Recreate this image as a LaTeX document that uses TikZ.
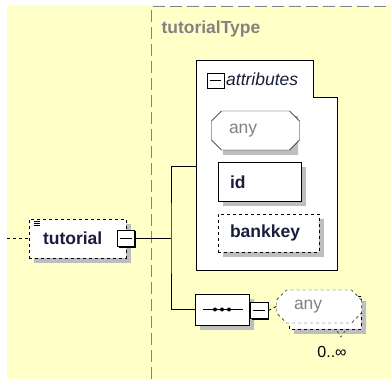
\documentclass[tikz,border=0pt]{standalone}
\usepackage{fontspec}
\setmainfont{Liberation Sans}
\usetikzlibrary{positioning,shapes.misc}
\definecolor{bgyellow}{RGB}{255,255,200}
\definecolor{shadegray}{RGB}{190,190,190}
\definecolor{typegray}{RGB}{130,130,130}
\definecolor{textnavy}{RGB}{25,30,60}

\begin{document}
\begin{tikzpicture}[x=1pt,y=-1pt]
	\tikzset{elem/.style={draw,fill=white,minimum height=39pt,inner xsep=12pt,inner ysep=0pt,align=left,font=\fontsize{17.5}{20}\selectfont\bfseries,text=textnavy}}
	\tikzset{octa/.style={chamfered rectangle,chamfered rectangle xsep=9pt,draw,fill=white,inner sep=0pt}}
	\tikzset{shadowbox/.style={chamfered rectangle,chamfered rectangle xsep=9pt,fill=shadegray,inner sep=0pt}}
	\tikzset{minbox/.style={draw,fill=white,line width=0.8pt,minimum width=17pt,minimum height=16pt,inner sep=0pt}}

	\useasboundingbox (0,0) rectangle (391,379);
	\fill[bgyellow] (7,5) rectangle (391,379);
	\draw[typegray,dashed,dash pattern=on 12pt off 5pt,line width=0.8pt] (151,379) -- (151,6.5) -- (391,6.5);
	\node[anchor=west,text=typegray,font=\fontsize{17.5}{20}\selectfont\bfseries] (typename) at (158,29) {tutorialType};

	% element tutorial
	\fill[shadegray] (34,224) rectangle (131,263);
	\node[elem,dashed,text width=69pt,inner xsep=14pt] (tutorial) at (77.5,238.5) {tutorial};
	\fill (118.5,231) rectangle (136.3,248.3);
	\node[minbox] (tutmin) at (126,238.5) {};
	\draw[line width=0.6pt] (34,221.5) -- (40,221.5) (34,223.5) -- (40,223.5) (34,225.5) -- (40,225.5);
	\coordinate (in) at (7,238.5);
	\draw[dashed,line width=0.8pt] (in) -- (tutorial.west);

	% attributes
	\draw[fill=white,line width=0.8pt] (196,60) -- (313,60) -- (313,97) -- (337,97) -- (337,270) -- (196,270) -- cycle;
	\coordinate (attr) at (196,166);
	\fill (208,74) rectangle (225.3,89.3);
	\node[minbox,minimum height=15pt] (attmin) at (215.5,80.5) {};
	\node[anchor=west,font=\fontsize{17.5}{20}\selectfont\itshape,text=textnavy,inner sep=0pt] (attlabel) at (226,79) {attributes};
	\node[shadowbox,minimum width=75pt,minimum height=39pt] (anyshade) at (260.5,135.5) {};
	\fill[shadegray] (223,167.5) rectangle (306,206.5);
	\fill[shadegray] (223,219) rectangle (324,257);
	\node[octa,minimum width=75pt,minimum height=39pt,text width=53pt,align=left,inner xsep=11pt,text=typegray,font=\fontsize{17.5}{20}\selectfont] (anyattr) at (255.5,130.5) {any};
	\node[elem,text width=59pt] (id) at (259.5,182) {id};
	\node[elem,dashed,text width=77pt,minimum height=38pt] (bankkey) at (268.5,233) {bankkey};

	% sequence
	\node[shadowbox,minimum width=54pt,minimum height=31pt] (seqshade) at (227,314.5) {};
	\node[octa,minimum width=54pt,minimum height=31pt] (seq) at (222,309.5) {};
	\draw (203,309.5) -- (243,309.5);
	\foreach \dx in {215,222,229}
		\fill (\dx,309.5) circle (2pt);
	\fill (251.5,303) rectangle (269.3,320.3);
	\node[minbox,minimum width=18pt] (seqmin) at (259,310.5) {};

	% any element, repeated
	\node[shadowbox,minimum width=72pt,minimum height=33pt] (backshade) at (330,317.5) {};
	\node[octa,dashed,minimum width=72pt,minimum height=33pt] (anyback) at (325,312.5) {};
	\node[octa,dashed,minimum width=72pt,minimum height=33pt,text width=50pt,align=left,inner xsep=11pt,text=typegray,font=\fontsize{17.5}{20}\selectfont] (anyelem) at (319,306.5) {any};
	\draw[dashed] (337,331) -- (341,337) -- (345,331);
	\node[font=\fontsize{16}{18}\selectfont,text=black] (occurs) at (332,352) {0..∞};

	% minus signs
	\foreach \m in {tutmin,attmin,seqmin}
		\draw[line width=0.8pt] ([xshift=3pt]\m.west) -- ([xshift=-3pt]\m.east);

	% connectors
	\coordinate (fork) at (171,238.5);
	\draw[line width=0.8pt] (tutmin.east) -- (fork);
	\draw[line width=0.8pt] (attr) -| (fork) |- (seq.west);
	\draw[dashed,line width=0.8pt] (seqmin.east) -- (anyelem.west);
\end{tikzpicture}
\end{document}
